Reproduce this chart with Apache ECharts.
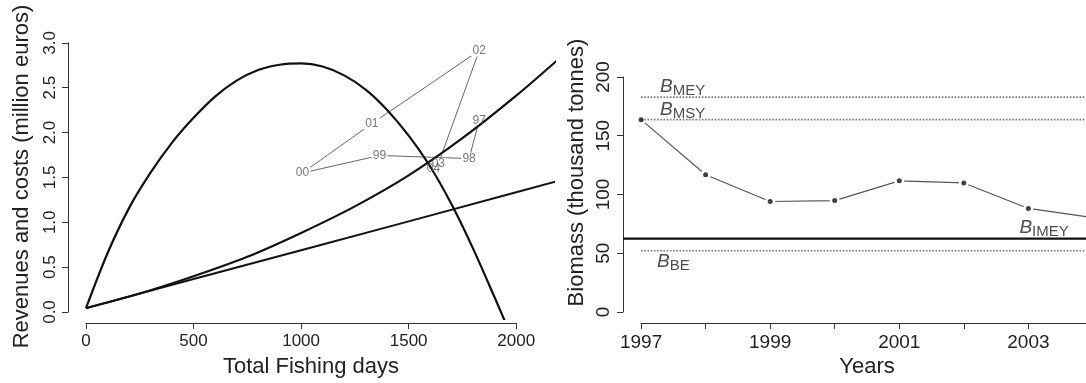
<!DOCTYPE html>
<html><head><meta charset="utf-8">
<script src="https://cdn.jsdelivr.net/npm/echarts@6/dist/echarts.min.js"></script>
<style>html,body{margin:0;padding:0;background:#fff;overflow:hidden;width:1086px;height:383px}#c{width:1130px;height:383px}</style>
</head><body><div id="c"></div>
<script>
// ---------- Left panel data (fishing days vs million euros) ----------
const revenueDays = [0,100,200,300,400,500,600,700,800,900,1000,1100,1200,1300,1400,1500,1600,1700,1800,1900,1960];
const revenueVals = [0,0.62,1.13,1.53,1.87,2.15,2.39,2.57,2.69,2.75,2.765,2.73,2.63,2.47,2.24,1.95,1.60,1.17,0.67,0.12,-0.22];
const costCurveDays = [0,250,500,750,1000,1250,1500,1750,2000,2200];
const costCurveVals = [0,0.165,0.36,0.58,0.85,1.15,1.50,1.92,2.40,2.82];
const costLineDays = [0,500,1000,1500,2000,2200];
const costLineVals = [0,0.33,0.655,0.98,1.31,1.44];
const trajLabels = ['97','98','99','00','01','02','03','04'];
const trajDays = [1828,1781,1364,1006,1329,1828,1638,1615];
const trajVals = [2.12,1.69,1.725,1.527,2.085,2.91,1.63,1.575];
const leftXTicks = [0,500,1000,1500,2000];
const leftYTicks = [0,0.5,1,1.5,2,2.5,3];
// ---------- Right panel data (biomass by year) ----------
const years = [1997,1998,1999,2000,2001,2002,2003,2004];
const biomass = [162.6,115,92,92.8,109.8,108,86,78];
const yearTickLabels = ['1997','','1999','','2001','','2003',''];
const rightYTicks = [0,50,100,150,200];
const refNames = ['MEY','MSY','IMEY','BE'];
const refValues = [182,162.6,60,49.5];

// ---------- layout ----------
const FONT = 'Liberation Sans, Arial, sans-serif';
const L = {left:68, top:26, width:486, height:297};
const R = {left:623, top:26, width:488, height:297};
const lx = [-83.7, 2175.7], ly = [-0.1226, 3.1876];
const rx = [1996.72, 2004.28], ry = [-9.36, 243.36];
function px(g, r, v){ return g.left + (v - r[0]) / (r[1] - r[0]) * g.width; }
function py(g, r, v){ return g.top + g.height - (v - r[0]) / (r[1] - r[0]) * g.height; }
const zip = (a, b) => a.map((v, i) => [v, b[i]]);

const lxg = {left: px(L,lx,leftXTicks[0]), width: px(L,lx,leftXTicks[leftXTicks.length-1]) - px(L,lx,leftXTicks[0]), top: L.top, height: L.height};
const lyg = {left: L.left, width: L.width, top: py(L,ly,leftYTicks[leftYTicks.length-1]), height: py(L,ly,leftYTicks[0]) - py(L,ly,leftYTicks[leftYTicks.length-1])};
const rxg = {left: px(R,rx,years[0]), width: px(R,rx,years[years.length-1]) - px(R,rx,years[0]), top: R.top, height: R.height};
const ryg = {left: R.left, width: R.width, top: py(R,ry,rightYTicks[rightYTicks.length-1]), height: py(R,ry,rightYTicks[0]) - py(R,ry,rightYTicks[rightYTicks.length-1])};

const axisLineStyle = {lineStyle: {color: '#333', width: 1}};
const hiddenParts = {axisLine:{show:false}, axisTick:{show:false}, axisLabel:{show:false}, splitLine:{show:false}};
const titleStyle = {fontSize: 22, color: '#222', fontFamily: FONT};

const chart = echarts.init(document.getElementById('c'), null, {renderer: 'canvas'});

const refLabelOffsets = {MEY:[19,-10.5], MSY:[19,-9.5], IMEY:[-9,-10.5], BE:[16,10.7]};
const refAnchorYear = {MEY: years[0], MSY: years[0], IMEY: years[6], BE: years[0]};

const series = [
  // trajectory (gray thin lines with gaps at labels)
  {type:'line', xAxisIndex:0, yAxisIndex:0, data: zip(trajDays, trajVals), z:2,
   symbol:'rect', symbolSize:[16,12], showAllSymbol:true, itemStyle:{color:'#fff'},
   lineStyle:{color:'#666', width:1}, silent:true, animation:false},
  // revenue
  {type:'line', xAxisIndex:0, yAxisIndex:0, data: zip(revenueDays, revenueVals), smooth:0.3, symbol:'none', z:3,
   lineStyle:{color:'#111', width:2.2}, clip:true, animation:false},
  // costs (curve)
  {type:'line', xAxisIndex:0, yAxisIndex:0, data: zip(costCurveDays, costCurveVals), smooth:0.3, symbol:'none', z:3,
   lineStyle:{color:'#111', width:2.2}, clip:true, animation:false},
  // costs (line)
  {type:'line', xAxisIndex:0, yAxisIndex:0, data: zip(costLineDays, costLineVals), symbol:'none', z:3,
   lineStyle:{color:'#111', width:2}, clip:true, animation:false},
  // trajectory labels
  {type:'scatter', xAxisIndex:0, yAxisIndex:0, z:4, symbol:'circle', symbolSize:1, itemStyle:{color:'rgba(0,0,0,0)'},
   data: trajDays.map((d,i) => ({value:[d, trajVals[i]], name: trajLabels[i]})),
   label:{show:true, position:'inside', formatter: p => p.name, color:'#555', fontSize:12, fontFamily: FONT},
   animation:false},
  // biomass line with gaps
  {type:'line', xAxisIndex:1, yAxisIndex:1, data: zip(years, biomass), z:2,
   symbol:'circle', symbolSize:10, showAllSymbol:true, itemStyle:{color:'#fff'},
   lineStyle:{color:'#555', width:1.2}, animation:false},
  // biomass points
  {type:'scatter', xAxisIndex:1, yAxisIndex:1, data: zip(years, biomass), z:5,
   symbol:'circle', symbolSize:5, itemStyle:{color:'#111'}, animation:false}
];

refNames.forEach((n, i) => {
  const v = refValues[i];
  const solid = n === 'IMEY';
  series.push({type:'line', xAxisIndex:1, yAxisIndex:1, z:4, symbol:'none', animation:false, clip:true,
    data: [[solid ? rx[0] : years[0], v], [rx[1], v]],
    lineStyle: solid ? {color:'#111', width:2.2} : {color:'#777', width:1.6, type:[1.6,1.6]}});
  series.push({type:'scatter', xAxisIndex:1, yAxisIndex:1, z:6, symbol:'circle', symbolSize:1,
    itemStyle:{color:'rgba(0,0,0,0)'}, animation:false,
    data: [{value:[refAnchorYear[n], v], name: n}],
    label:{show:true, position:'inside', offset: refLabelOffsets[n], align:'left', verticalAlign:'middle',
      formatter: p => '{b|B}{s|' + p.name + '}',
      rich:{
        b:{fontSize:19, fontStyle:'italic', color:'#222', fontFamily: FONT, lineHeight:19, verticalAlign:'top'},
        s:{fontSize:15, color:'#222', fontFamily: FONT, lineHeight:15, padding:[6,0,0,0], verticalAlign:'top'}
      }}});
});

chart.setOption({
  animation:false,
  backgroundColor:'#fff',
  grid:[
    Object.assign({}, L), Object.assign({}, R),
    Object.assign({}, lxg), Object.assign({}, lyg),
    Object.assign({}, rxg), Object.assign({}, ryg)
  ],
  xAxis:[
    Object.assign({gridIndex:0, type:'value', min:lx[0], max:lx[1], name:'Total Fishing days', nameLocation:'middle', nameGap:37, nameTextStyle:titleStyle}, hiddenParts),
    Object.assign({gridIndex:1, type:'value', min:rx[0], max:rx[1], name:'Years', nameLocation:'middle', nameGap:37, nameTextStyle:titleStyle}, hiddenParts),
    {gridIndex:2, type:'value', position:'bottom', min:leftXTicks[0], max:leftXTicks[leftXTicks.length-1], interval:leftXTicks[1]-leftXTicks[0],
     axisLine:axisLineStyle, axisTick:{show:true, length:6, lineStyle:{color:'#333'}}, splitLine:{show:false},
     axisLabel:{margin:10, fontSize:17, color:'#222', fontFamily:FONT, showMinLabel:true, showMaxLabel:true, formatter: v => String(v)}},
    {gridIndex:3, type:'value', show:false, min:0, max:1},
    {gridIndex:4, type:'value', position:'bottom', min:years[0], max:years[years.length-1], interval:1,
     axisLine:axisLineStyle, axisTick:{show:true, length:6, lineStyle:{color:'#333'}}, splitLine:{show:false},
     axisLabel:{margin:10, fontSize:19, color:'#222', fontFamily:FONT, formatter: v => yearTickLabels[years.indexOf(v)] || ''}},
    {gridIndex:5, type:'value', show:false, min:0, max:1}
  ],
  yAxis:[
    Object.assign({gridIndex:0, type:'value', min:ly[0], max:ly[1], name:'Revenues and costs (million euros)', nameLocation:'middle', nameGap:35, nameTextStyle:Object.assign({padding:[0,8,0,0]}, titleStyle)}, hiddenParts),
    Object.assign({gridIndex:1, type:'value', min:ry[0], max:ry[1], name:'Biomass (thousand tonnes)', nameLocation:'middle', nameGap:35, nameTextStyle:titleStyle}, hiddenParts),
    {gridIndex:2, type:'value', show:false, min:0, max:1},
    {gridIndex:3, type:'value', position:'left', min:leftYTicks[0], max:leftYTicks[leftYTicks.length-1], interval:leftYTicks[1]-leftYTicks[0],
     axisLine:axisLineStyle, axisTick:{show:true, length:6, lineStyle:{color:'#333'}}, splitLine:{show:false},
     axisLabel:{margin:9, rotate:90, fontSize:17, color:'#222', fontFamily:FONT, formatter: v => v.toFixed(1)}},
    {gridIndex:4, type:'value', show:false, min:0, max:1},
    {gridIndex:5, type:'value', position:'left', min:rightYTicks[0], max:rightYTicks[rightYTicks.length-1], interval:rightYTicks[1]-rightYTicks[0],
     axisLine:axisLineStyle, axisTick:{show:true, length:6, lineStyle:{color:'#333'}}, splitLine:{show:false},
     axisLabel:{margin:10, rotate:90, fontSize:19, color:'#222', fontFamily:FONT}}
  ],
  series: series
});
</script>
</body></html>
